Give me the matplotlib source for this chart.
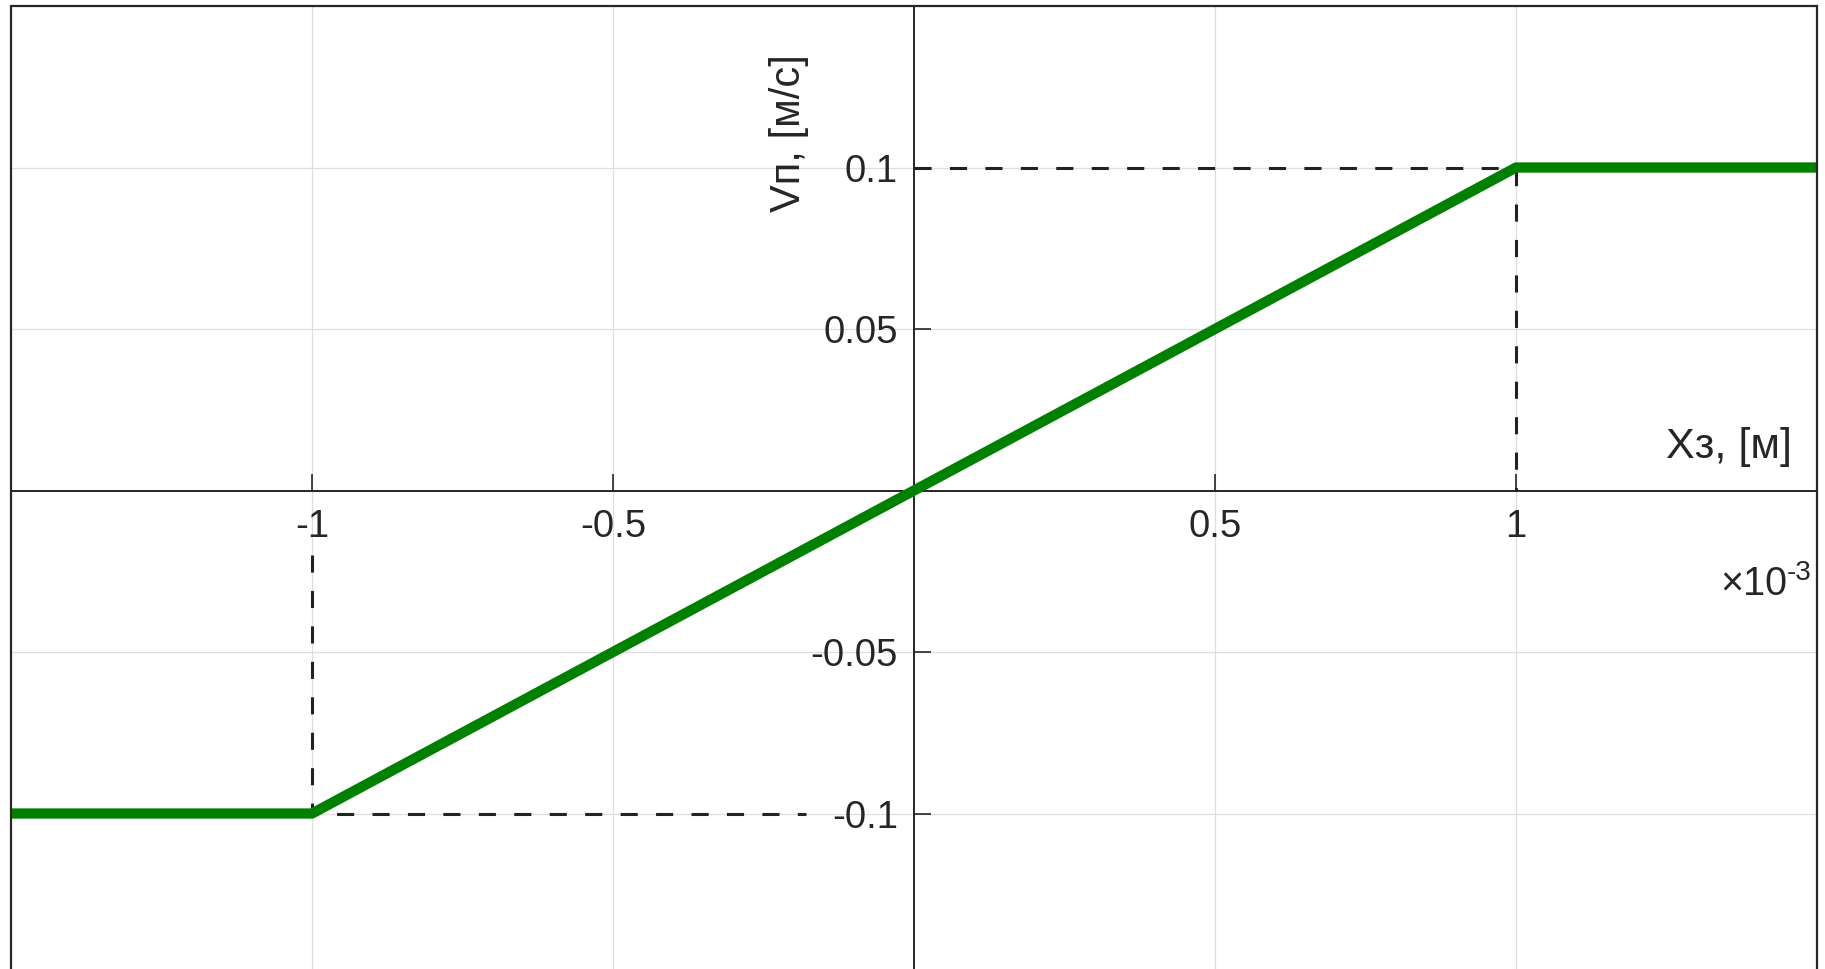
import matplotlib
matplotlib.use("Agg")
import matplotlib.pyplot as plt
from matplotlib.patches import Rectangle
from matplotlib.ticker import FuncFormatter

# характеристика: рассогласование Xз -> скорость Vп
x_pts = [-1.5e-3, -1e-3, 1e-3, 1.5e-3]
v_pts = [-0.1, -0.1, 0.1, 0.1]

# вспомогательные пунктирные линии (x, y)
dash_top_x = [0.0, 1e-3, 1e-3]
dash_top_y = [0.1, 0.1, 0.0]
dash_bot_x = [-1e-3, -1e-3, -0.18e-3]
dash_bot_y = [-0.02, -0.1, -0.1]

x_ticks = [-1e-3, -0.5e-3, 0.5e-3, 1e-3]
y_ticks = [-0.1, -0.05, 0.05, 0.1]
x_lim = (-1.5e-3, 1.5e-3)
y_lim = (-0.15, 0.15)

x_label = "Xз, [м]"
y_label = "Vп, [м/с]"

plt.rcParams['font.family'] = ['Liberation Sans', 'DejaVu Sans']

TXT = '#262626'
AX = '#262626'


def fmt_x(v, pos):
    return f"{v * 1e3:g}"


def fmt_y(v, pos):
    return f"{v:g}"


fig = plt.figure(figsize=(18.25, 9.69), dpi=100)
ax = fig.add_axes([11 / 1825, -6 / 969, 1806 / 1825, 1.0])

ax.plot(dash_top_x, dash_top_y, color='#222222', lw=2.2, dashes=(5.6, 6), zorder=3)
ax.plot(dash_bot_x, dash_bot_y, color='#222222', lw=2.2, dashes=(5.6, 6), zorder=3)
ax.plot(x_pts, v_pts, color='#008000', lw=7.4, solid_capstyle='butt', zorder=4)

ax.set_xlim(*x_lim)
ax.set_ylim(*y_lim)
ax.set_xticks(x_ticks)
ax.set_yticks(y_ticks)
ax.xaxis.set_major_formatter(FuncFormatter(fmt_x))
ax.yaxis.set_major_formatter(FuncFormatter(fmt_y))

# оси проходят через начало координат
ax.spines['left'].set_position(('data', 0))
ax.spines['bottom'].set_position(('data', 0))
for s in ['left', 'bottom', 'top', 'right']:
    ax.spines[s].set_color(AX)
    ax.spines[s].set_linewidth(1.4)
ax.add_patch(Rectangle((0, 0), 1, 1, transform=ax.transAxes, fill=False,
                       ec=AX, lw=1.6, clip_on=False, zorder=5))

ax.tick_params(direction='in', length=12, width=1.2, color=AX,
               labelsize=27.5, labelcolor=TXT)
ax.tick_params(axis='x', pad=13)
ax.tick_params(axis='y', pad=11.5)

ax.grid(True, color='#dedede', lw=0.9)
ax.set_axisbelow(True)

ax.text(0.431, 0.869, y_label, transform=ax.transAxes, rotation=90,
        ha='center', va='center', fontsize=30, color=TXT)
ax.text(0.986, 0.545, x_label, transform=ax.transAxes,
        ha='right', va='center', fontsize=31, color=TXT)

# множитель шкалы x
t_mul = ax.text(0.9835, 0.404, "×10", transform=ax.transAxes,
                ha='right', va='center', fontsize=28.5, color=TXT)
ax.annotate("-3", xy=(1.0, 0.78), xycoords=t_mul, ha='left', va='center',
            fontsize=20, color=TXT)

fig.savefig("out.png", dpi=100)
